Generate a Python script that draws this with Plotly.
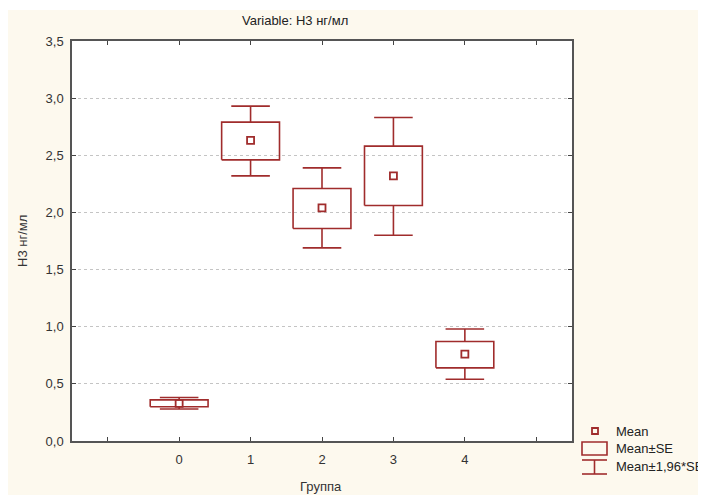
import plotly.graph_objects as go

groups = [0, 1, 2, 3, 4]
means = [0.33, 2.63, 2.04, 2.32, 0.76]
se_low = [0.30, 2.46, 1.86, 2.06, 0.64]
se_high = [0.36, 2.79, 2.21, 2.58, 0.87]
ci_low = [0.28, 2.32, 1.69, 1.80, 0.54]
ci_high = [0.38, 2.93, 2.39, 2.83, 0.98]
tick_vals = [-1, 0, 1, 2, 3, 4, 5]
tick_text = ["", "0", "1", "2", "3", "4", ""]

RED = "#A02C2C"
BOX_HW = 0.405
CAP_HW = 0.27
OFF = 8  # page body margin

fig = go.Figure()

bx, by = [], []
for g, lo, hi, wl, wh in zip(groups, se_low, se_high, ci_low, ci_high):
    bx += [g - BOX_HW, g + BOX_HW, g + BOX_HW, g - BOX_HW, g - BOX_HW, None]
    by += [lo, lo, hi, hi, lo, None]
    bx += [g, g, None, g, g, None]
    by += [hi, wh, None, lo, wl, None]
    bx += [g - CAP_HW, g + CAP_HW, None, g - CAP_HW, g + CAP_HW, None]
    by += [wh, wh, None, wl, wl, None]

fig.add_trace(go.Scatter(x=bx, y=by, mode="lines", line=dict(color=RED, width=1.6),
                         showlegend=False, hoverinfo="skip"))
fig.add_trace(go.Scatter(x=groups, y=means, mode="markers",
                         marker=dict(symbol="square-open", size=7, color=RED, line=dict(width=1.8)),
                         showlegend=False))

# page pixel -> paper coords (plot area in page pixels: x 72..572, y 41..441)
def px(x):
    return (x - 72) / 500

def py(y):
    return (441 - y) / 400

# thin white strip at top of page like reference
fig.add_shape(type="rect", xref="paper", yref="paper",
              x0=px(0), x1=px(720), y0=py(10), y1=py(0),
              fillcolor="white", line=dict(width=0), layer="below")

# legend drawn manually
fig.add_shape(type="rect", xref="paper", yref="paper", x0=px(592), x1=px(598), y0=py(434), y1=py(428),
              line=dict(color=RED, width=1.8))
fig.add_shape(type="rect", xref="paper", yref="paper", x0=px(582), x1=px(607), y0=py(455), y1=py(442),
              line=dict(color=RED, width=1.6))
fig.add_shape(type="line", xref="paper", yref="paper", x0=px(582), x1=px(607), y0=py(460), y1=py(460),
              line=dict(color=RED, width=1.6))
fig.add_shape(type="line", xref="paper", yref="paper", x0=px(582), x1=px(607), y0=py(474), y1=py(474),
              line=dict(color=RED, width=1.6))
fig.add_shape(type="line", xref="paper", yref="paper", x0=px(594.5), x1=px(594.5), y0=py(460), y1=py(474),
              line=dict(color=RED, width=1.6))
for txt, yy in [("Mean", 431), ("Mean±SE", 448), ("Mean±1,96*SE", 466)]:
    fig.add_annotation(text=txt, xref="paper", yref="paper", x=px(614), y=py(yy),
                       xanchor="left", yanchor="middle", showarrow=False,
                       font=dict(size=13, color="#222"))

fig.add_annotation(text="Н3 нг/мл", xref="paper", yref="paper", x=px(22), y=py(241),
                   textangle=-90, showarrow=False, xanchor="center", yanchor="middle",
                   font=dict(size=13, color="#333"))
fig.add_annotation(text="Группа", xref="paper", yref="paper", x=px(321), y=py(486),
                   showarrow=False, xanchor="center", yanchor="middle",
                   font=dict(size=13, color="#333"))
fig.add_annotation(text="Variable: Н3 нг/мл", xref="paper", yref="paper", x=px(295), y=py(20),
                   showarrow=False, xanchor="center", yanchor="middle",
                   font=dict(size=13, color="#222"))

fig.update_layout(
    width=706 - OFF, height=495 - OFF,
    margin=dict(l=72 - OFF, r=134, t=41 - OFF, b=54, autoexpand=False),
    paper_bgcolor="#FDF9EE",
    plot_bgcolor="white",
    separators=", ",
    font=dict(family="Liberation Sans, Arial, sans-serif", size=13, color="#333"),
)
fig.update_xaxes(range=[-1.5, 5.5], tickvals=tick_vals, ticktext=tick_text,
                 ticks="inside", ticklen=4, tickcolor="#444", mirror="ticks",
                 showline=True, linecolor="#555", linewidth=1.5, showgrid=False, zeroline=False,
                 automargin=False, ticklabelstandoff=6, tickfont=dict(size=13, color="#333"))
fig.update_yaxes(range=[0, 3.5], dtick=0.5, tickformat=".1f",
                 ticks="inside", ticklen=4, tickcolor="#444", mirror="ticks",
                 showline=True, linecolor="#555", linewidth=1.5,
                 showgrid=True, gridcolor="#C4C4C4", griddash="dot", gridwidth=1, zeroline=False,
                 automargin=False, ticklabelstandoff=4, tickfont=dict(size=13, color="#333"))

fig.write_html("out.html")
